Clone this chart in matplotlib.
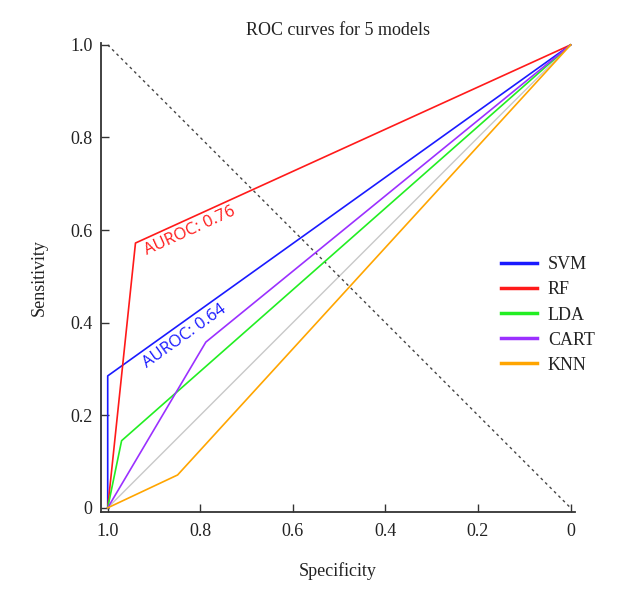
import matplotlib
matplotlib.use("Agg")
import matplotlib.pyplot as plt

plt.rcParams['font.family'] = ['Liberation Serif', 'DejaVu Serif']

models = ["SVM", "RF", "LDA", "CART", "KNN"]
colors = ["#1a1aff", "#ff1a1a", "#22ee22", "#9b30ff", "#ffa500"]
specificity = {
    "SVM": [1.0, 1.0, 0.0],
    "RF": [1.0, 0.94, 0.0],
    "LDA": [1.0, 0.97, 0.0],
    "CART": [1.0, 0.788, 0.0],
    "KNN": [1.0, 0.849, 0.0],
}
sensitivity = {
    "SVM": [0.0, 0.285, 1.0],
    "RF": [0.0, 0.572, 1.0],
    "LDA": [0.0, 0.145, 1.0],
    "CART": [0.0, 0.358, 1.0],
    "KNN": [0.0, 0.071, 1.0],
}
auroc_labels = {"RF": "AUROC: 0.76", "SVM": "AUROC: 0.64"}
xticks = [1.0, 0.8, 0.6, 0.4, 0.2, 0.0]
xticklabels = ["1.0", "0.8", "0.6", "0.4", "0.2", "0"]
yticks = [0.0, 0.2, 0.4, 0.6, 0.8, 1.0]
yticklabels = ["0", "0.2", "0.4", "0.6", "0.8", "1.0"]

fig = plt.figure(figsize=(6.22, 6.02), dpi=100)
ax = fig.add_axes([0.162, 0.1495, 0.762, 0.779])

# reference diagonals
ax.plot([1, 0], [0, 1], color="#c8c8c8", lw=1.0, zorder=1)
ax.plot([1, 0], [1, 0], color="#444444", lw=1.0, ls=(0, (2, 2.5)), zorder=1)

for m, c in zip(models, colors):
    ax.plot(specificity[m], sensitivity[m], color=c, lw=1.2, label=m, zorder=3)

def line_y(m, x):
    xs, ys = specificity[m], sensitivity[m]
    x1, x2, y1, y2 = xs[1], xs[2], ys[1], ys[2]
    return y1 + (x - x1) * (y2 - y1) / (x2 - x1)

xr = 0.93
ax.annotate(auroc_labels["RF"], xy=(xr, line_y("RF", xr)), xytext=(1.5, -2.5),
            textcoords="offset points", color="#ff1a1a", fontsize=12,
            rotation=24.5, rotation_mode="anchor", ha="left", va="top",
            family=["Open Sans", "DejaVu Sans"])
xb = 0.935
ax.annotate(auroc_labels["SVM"], xy=(xb, line_y("SVM", xb)), xytext=(1.5, -2.5),
            textcoords="offset points", color="#1a1aff", fontsize=12,
            rotation=35.5, rotation_mode="anchor", ha="left", va="top",
            family=["Open Sans", "DejaVu Sans"])

ax.set_xlim(1.015, -0.009)
ax.set_ylim(-0.009, 1.004)
ax.set_xticks(xticks)
ax.set_xticklabels(xticklabels)
ax.set_yticks(yticks)
ax.set_yticklabels(yticklabels)
ax.tick_params(direction="in", length=6, width=1, colors="#333333",
               labelsize=13, labelcolor="#222222")
ax.tick_params(axis="x", pad=8)
ax.tick_params(axis="y", pad=6)
for s in ["top", "right"]:
    ax.spines[s].set_visible(False)
for s in ["left", "bottom"]:
    ax.spines[s].set_color("#333333")
    ax.spines[s].set_linewidth(1.3)

ax.set_title("ROC curves for 5 models", fontsize=13, color="#222222", pad=6)
ax.set_xlabel("Specificity", fontsize=13, color="#222222", labelpad=16)
ax.set_ylabel("Sensitivity", fontsize=13, color="#222222", labelpad=16)

leg = ax.legend(loc="upper left", bbox_to_anchor=(0.81, 0.58), frameon=False,
                fontsize=13, handlelength=2.0, labelspacing=0.45,
                handletextpad=0.6)
for h in leg.get_lines():
    h.set_linewidth(2.5)
for t in leg.get_texts():
    t.set_color("#222222")

fig.savefig("out.png", dpi=100)
